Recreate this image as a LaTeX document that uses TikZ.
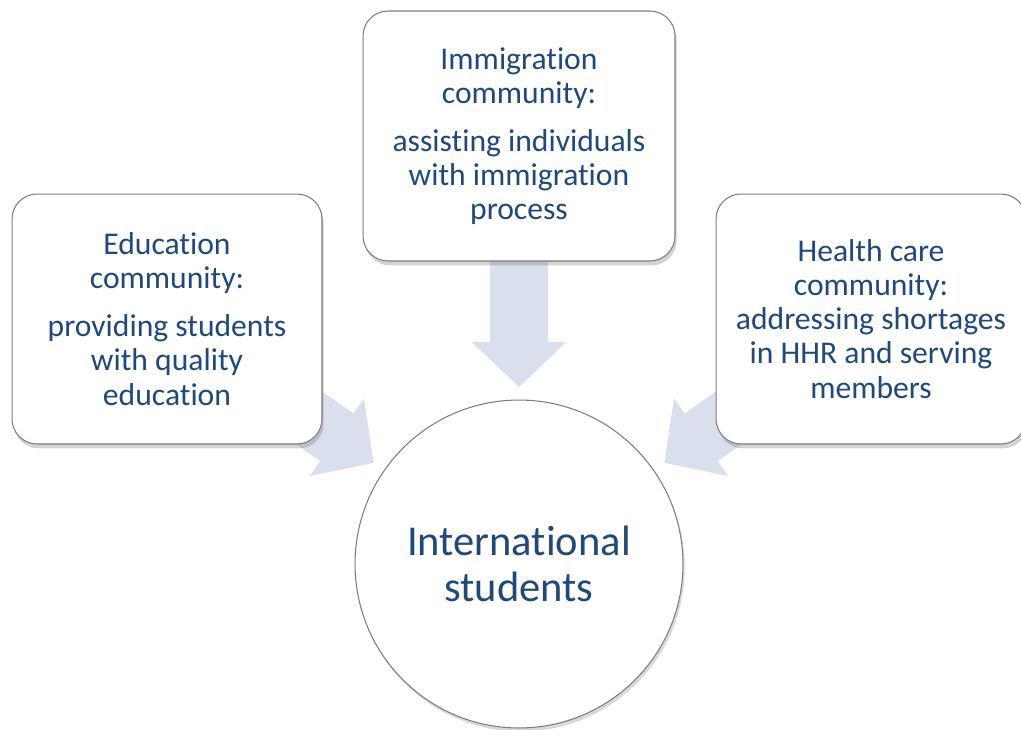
\documentclass[tikz,border=0pt]{standalone}
\usepackage{fontspec}
\setmainfont{Carlito}[Ligatures=NoCommon]
\usepackage{xcolor}
\usepackage{tikz}
\usetikzlibrary{arrows.meta, positioning, calc, shadows, backgrounds}
\definecolor{textblue}{RGB}{31, 73, 125}
\definecolor{arrowfill}{RGB}{218, 223, 238}
\definecolor{boxline}{RGB}{125, 125, 125}

\tikzset{
  community/.style={draw=boxline, rounded corners=0.5cm, fill=white,
        minimum width=6.2cm, minimum height=5cm, align=center,
        line width=0.6pt, text=textblue,
        font=\fontsize{18}{19.4}\selectfont,
        drop shadow={shadow xshift=1pt, shadow yshift=-2.5pt, opacity=0.35}},
  hub/.style={circle, draw=boxline, fill=white, minimum size=6.56cm,
        inner sep=0pt, align=center, line width=0.6pt, text=textblue,
        font=\fontsize{24.2}{26.1}\selectfont,
        drop shadow={shadow xshift=1pt, shadow yshift=-2pt, opacity=0.3}},
  flow/.style={draw=arrowfill, line width=1.16cm,
        -{Triangle[width=1.84cm, length=0.9cm]}}
}

\begin{document}
\begin{tikzpicture}[x=0.02cm, y=-0.02cm]
  \useasboundingbox (0,0) rectangle (1021,730);

  \node[hub] (stud) at (519,564) {International\\students};
  \node[community] (edu) at (167,319) {
    Education\\community:\\[8pt]
    providing students\\with quality\\education
  };
  \node[community, minimum width=6.24cm] (imm) at (519,136) {
    Immigration\\community:\\[8pt]
    assisting individuals\\with immigration\\process
  };
  \node[community] (hlth) at (871,319) {
    Health care\\community:\\
    addressing shortages\\in HHR and serving\\members
  };

  \coordinate (edu tip) at ($(stud.center)!3.54cm!(edu.center)$);
  \coordinate (imm tip) at ($(stud.center)!3.54cm!(imm.center)$);
  \coordinate (hlth tip) at ($(stud.center)!3.54cm!(hlth.center)$);

  \begin{scope}[on background layer]
    \draw[flow] (edu.center) -- (edu tip);
    \draw[flow] (imm.center) -- (imm tip);
    \draw[flow] (hlth.center) -- (hlth tip);
  \end{scope}
\end{tikzpicture}
\end{document}
